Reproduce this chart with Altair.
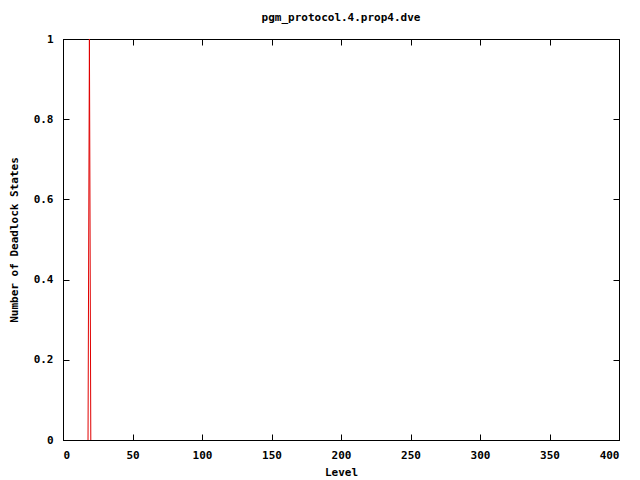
import altair as alt
import pandas as pd

levels = [18, 19, 20]
deadlocks = [0, 1, 0]
x_ticks = [0, 50, 100, 150, 200, 250, 300, 350, 400]
y_ticks = [0, 0.2, 0.4, 0.6, 0.8, 1]

df = pd.DataFrame({"Level": levels, "Deadlocks": deadlocks})

FONT = "DejaVu Sans Mono"
inward = alt.ExprRef("-6")

base = alt.Chart(df)

main = base.mark_line(color="#e00000", strokeWidth=1, clip=True).encode(
    x=alt.X("Level:Q", scale=alt.Scale(domain=[0, 400], nice=False, zero=False),
            axis=alt.Axis(orient="bottom", values=x_ticks, title="Level", tickSize=inward,
                          labelPadding=15, titlePadding=6, grid=False, format="d")),
    y=alt.Y("Deadlocks:Q", scale=alt.Scale(domain=[0, 1], nice=False),
            axis=alt.Axis(orient="left", values=y_ticks, title="Number of Deadlock States",
                          tickSize=inward, labelPadding=16, titlePadding=14, grid=False,
                          labelExpr="datum.value == 0 ? '0' : datum.value == 1 ? '1' : format(datum.value, '.1f')")),
)

mirror = base.mark_line(opacity=0).encode(
    x=alt.X("Level:Q", axis=alt.Axis(orient="top", values=x_ticks, title=None, labels=False,
                                     tickSize=inward, grid=False)),
    y=alt.Y("Deadlocks:Q", axis=alt.Axis(orient="right", values=y_ticks, title=None, labels=False,
                                         tickSize=inward, grid=False)),
)

chart = alt.layer(main, mirror).resolve_axis(x="independent", y="independent").properties(
    width=556, height=401,
    title=alt.TitleParams("pgm_protocol.4.prop4.dve", font=FONT, fontSize=11, fontWeight="bold",
                          color="black", offset=10),
    autosize=alt.AutoSizeParams(type="none"),
    padding={"left": 55, "top": 31, "right": 13, "bottom": 40},
).configure_view(stroke="black", strokeWidth=1).configure_axis(
    domainColor="black", tickColor="black", labelColor="black", titleColor="black",
    labelFont=FONT, titleFont=FONT, labelFontSize=11, titleFontSize=11,
    labelFontWeight="bold", titleFontWeight="bold", domainWidth=1, tickWidth=1,
)

chart.save("out.html", embed_options={"renderer": "svg", "actions": False})
